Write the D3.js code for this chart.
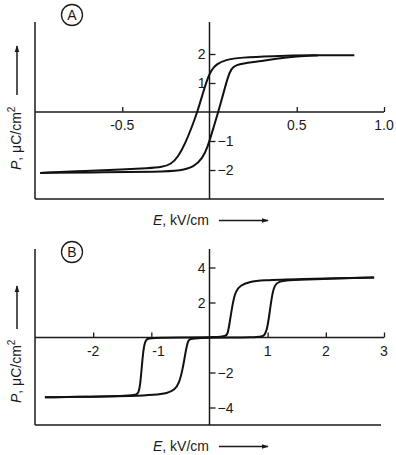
<!DOCTYPE html>
<meta charset="utf-8">
<style>
body{
  margin: 0px;
  background: white;
  font-family: "Liberation Sans", Arial, sans-serif;
}
text{
  fill: #1a1a1a;
  font-size: 14px;
}
.curve{
  fill: none;
  stroke: #111;
  stroke-width: 2px;
  stroke-linejoin: round;
}
.frame{
  stroke: #1a1a1a;
  stroke-width: 1.5px;
}
.tick line{
  stroke: #1a1a1a;
  stroke-width: 1.3px;
}
</style>
<body>
<script src="https://cdn.jsdelivr.net/npm/d3@7"></script>
<script>

// panel A : ferroelectric loop (E in kV/cm, P in uC/cm2)
var aXTicks = [-0.5, 0.5, 1.0],
    aXLabels = ['-0.5', '0.5', '1.0'],
    aYTicks = [2, 1, -1, -2],
    aYLabels = ['2', '1', '\u22121', '\u22122']

var aDown = [  // branch traced with falling field
  [-0.97, -2.1], [-0.97, -2.1], [-0.7, -2.03], [-0.5, -1.98], [-0.35, -1.94],
  [-0.27, -1.9], [-0.22, -1.8], [-0.18, -1.55], [-0.14, -1.1], [-0.1, -0.5],
  [-0.07, 0], [-0.04, 0.6], [-0.015, 1.1], [0.01, 1.45], [0.04, 1.65],
  [0.09, 1.8], [0.18, 1.88], [0.35, 1.93], [0.6, 1.96], [0.83, 1.96], [0.83, 1.96]
]
var aUp = [    // branch traced with rising field
  [-0.97, -2.1], [-0.97, -2.1], [-0.6, -2.08], [-0.3, -2.06], [-0.16, -2.02],
  [-0.09, -1.9], [-0.04, -1.6], [-0.01, -1.2], [0.02, -0.6], [0.05, 0],
  [0.08, 0.65], [0.105, 1.2], [0.125, 1.5], [0.15, 1.62], [0.2, 1.68],
  [0.28, 1.74], [0.38, 1.84], [0.5, 1.92], [0.62, 1.95]
]

// panel B : antiferroelectric double loop
var bXTicks = [-2, -1, 1, 2, 3],
    bXLabels = ['-2', '-1', '1', '2', '3'],
    bYTicks = [4, 2, -2, -4],
    bYLabels = ['4', '2', '\u22122', '\u22124']

var bDown = [
  [-2.83, -3.42], [-2.83, -3.42], [-2.0, -3.38], [-1.5, -3.35], [-1.28, -3.3],
  [-1.22, -3.2], [-1.19, -2.7], [-1.16, -1.5], [-1.13, -0.5], [-1.09, -0.08],
  [-1.02, 0], [0.27, 0], [0.31, 0.15], [0.35, 0.9], [0.4, 2.0], [0.45, 2.65],
  [0.53, 2.98], [0.68, 3.17], [0.9, 3.27], [1.5, 3.34], [2.83, 3.43], [2.83, 3.43]
]
var bUp = [
  [-2.83, -3.42], [-2.83, -3.42], [-2.0, -3.38], [-1.3, -3.34], [-0.95, -3.28],
  [-0.72, -3.18], [-0.6, -3.0], [-0.52, -2.6], [-0.46, -1.8], [-0.41, -0.8],
  [-0.37, -0.15], [-0.32, 0], [0.87, 0], [0.95, 0.1], [1.0, 0.6], [1.04, 1.6],
  [1.08, 2.5], [1.12, 3.0], [1.19, 3.2], [1.35, 3.27], [1.7, 3.32], [2.83, 3.43],
  [2.83, 3.43]
]

var svg = d3.select('body')
  .append('svg')
    .attr('width', 396)
    .attr('height', 455)

var defs = svg.append('defs')
defs.append('marker')
    .attr('id', 'arr')
    .attr('viewBox', '0 0 10 10')
    .attr('refX', 9).attr('refY', 5)
    .attr('markerWidth', 7).attr('markerHeight', 7)
    .attr('markerUnits', 'userSpaceOnUse')
    .attr('orient', 'auto')
  .append('path')
    .attr('d', 'M0,1.5 L10,5 L0,8.5 Z')
    .style('fill', '#1a1a1a')

function panel(o){
  var x = d3.scaleLinear().domain(o.xDomain).range([35, 384]),
      y = d3.scaleLinear().domain(o.yDomain).range([o.bottom, o.top])

  var g = svg.append('g')

  // frame: left side, bottom, zero lines
  g.append('line').attr('class', 'frame')
      .attr('x1', 35).attr('x2', 35).attr('y1', o.frameTop).attr('y2', o.bottom)
  g.append('line').attr('class', 'frame')
      .attr('x1', 35).attr('x2', o.bottomEnd).attr('y1', o.bottom).attr('y2', o.bottom)
  g.append('line').attr('class', 'frame')
      .attr('x1', x(0)).attr('x2', x(0)).attr('y1', o.frameTop).attr('y2', o.bottom)
  g.append('line').attr('class', 'frame')
      .attr('x1', 35).attr('x2', 384).attr('y1', y(0)).attr('y2', y(0))

  // tick marks via axes
  g.append('g')
      .attr('transform', 'translate(0,' + y(0) + ')')
      .call(d3.axisTop(x).tickValues(o.xTicks).tickSize(5).tickFormat(''))
  g.append('g')
      .attr('transform', 'translate(' + x(0) + ',0)')
      .call(d3.axisRight(y).tickValues(o.yTicks).tickSize(6).tickFormat(''))
  g.selectAll('.domain').remove()

  g.selectAll('.xl').data(o.xTicks)
    .enter().append('text')
      .attr('x', function(d, i){ return x(d) + (o.xShift[i] || 0) })
      .attr('y', y(0) + 18)
      .attr('text-anchor', function(d, i){ return o.xShift[i] ? 'start' : 'middle' })
      .text(function(d, i){ return o.xLabels[i] })

  g.selectAll('.yl').data(o.yTicks)
    .enter().append('text')
      .attr('x', function(d){ return d > 0 ? x(0) - 4 : x(0) + 8 })
      .attr('y', function(d){ return y(d) })
      .attr('dy', '0.36em')
      .attr('text-anchor', function(d){ return d > 0 ? 'end' : 'start' })
      .text(function(d, i){ return o.yLabels[i] })

  var line = d3.line()
      .x(function(d){ return x(d[0]) })
      .y(function(d){ return y(d[1]) })
      .curve(d3.curveBasis)

  g.selectAll('.curve').data(o.branches)
    .enter().append('path')
      .attr('class', 'curve')
      .attr('d', line)

  // circled letter
  g.append('circle')
      .attr('cx', 72).attr('cy', o.letterY).attr('r', 10.5)
      .style('fill', 'none').style('stroke', '#1a1a1a').style('stroke-width', 1.3)
  g.append('text')
      .attr('x', 72).attr('y', o.letterY).attr('dy', '0.36em')
      .attr('text-anchor', 'middle')
      .text(o.letter)

  // y title with arrow
  var yt = g.append('text')
      .attr('transform', 'translate(21,' + o.yTitleY + ') rotate(-90)')
  yt.append('tspan').style('font-style', 'italic').text('P')
  yt.append('tspan').text(', \u03bcC/cm')
  yt.append('tspan').attr('dy', -6).style('font-size', '10px').text('2')
  g.append('line').attr('class', 'frame')
      .attr('x1', 17).attr('x2', 17)
      .attr('y1', o.yArrowStart).attr('y2', o.yArrowEnd)
      .attr('marker-end', 'url(#arr)')

  // x title with arrow
  var xt = g.append('text')
      .attr('x', 153).attr('y', o.xTitleY)
  xt.append('tspan').style('font-style', 'italic').text('E')
  xt.append('tspan').text(', kV/cm')
  g.append('line').attr('class', 'frame')
      .attr('x1', 219).attr('x2', 268)
      .attr('y1', o.xTitleY - 4.5).attr('y2', o.xTitleY - 4.5)
      .attr('marker-end', 'url(#arr)')
}

panel({
  xDomain: [-1, 1], yDomain: [-3, 3], top: 25, bottom: 199, frameTop: 22,
  bottomEnd: 384, xTicks: aXTicks, xLabels: aXLabels, xShift: [],
  yTicks: aYTicks, yLabels: aYLabels, branches: [aDown, aUp],
  letter: 'A', letterY: 15, yTitleY: 170, yArrowStart: 95, yArrowEnd: 46, xTitleY: 225
})

panel({
  xDomain: [-3, 3], yDomain: [-5, 5], top: 250, bottom: 425, frameTop: 249,
  bottomEnd: 381, xTicks: bXTicks, xLabels: bXLabels, xShift: [0, 1],
  yTicks: bYTicks, yLabels: bYLabels, branches: [bDown, bUp],
  letter: 'B', letterY: 252, yTitleY: 403, yArrowStart: 329, yArrowEnd: 286, xTitleY: 451
})

</script>
